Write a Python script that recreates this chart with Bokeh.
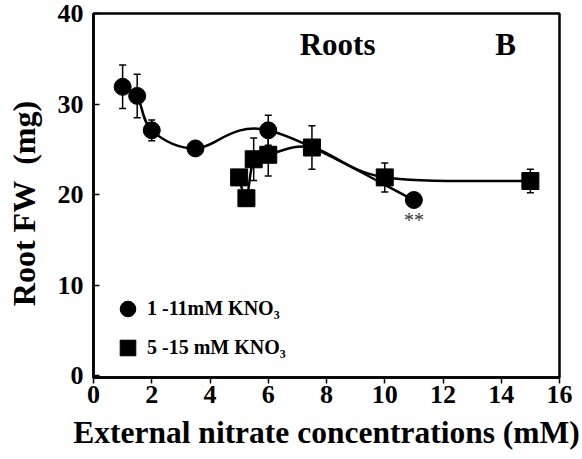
from bokeh.plotting import figure
from bokeh.models import Range1d, FixedTicker, Whisker, TeeHead, ColumnDataSource, Label, Legend, LegendItem
from bokeh.embed import file_html
from bokeh.resources import INLINE

# ---- data ----
circ_x = [1, 1.5, 2, 3.5, 6, 11]
circ_y = [31.9, 30.9, 27.1, 25.1, 27.1, 19.4]
circ_err = [2.4, 2.4, 1.15, 0, 1.65, 0]

sq_x = [5, 5.25, 5.5, 6, 7.5, 10, 15]
sq_y = [21.9, 19.6, 23.9, 24.4, 25.2, 21.9, 21.5]
sq_err = [0, 0, 2.35, 2.35, 2.4, 1.6, 1.3]

x_ticks = [0, 2, 4, 6, 8, 10, 12, 14, 16]
y_ticks = [0, 10, 20, 30, 40]
series_labels = ["1 -11mM KNO\u2083", "5 -15 mM KNO\u2083"]
x_title = "External nitrate concentrations (mM)"
y_title = "Root FW\u00a0 (mg)\u00a0\u00a0"
panel_title = "Roots"
panel_letter = "B"
signif = "**"

FONT = "Liberation Serif"

p = figure(width=582, height=459, output_backend="svg", toolbar_location=None,
           x_range=Range1d(0, 16), y_range=Range1d(-0.2, 40),
           min_border_left=93, min_border_right=23, min_border_top=13, min_border_bottom=82)
p.grid.visible = False
p.outline_line_color = "black"
p.outline_line_width = 2.5
p.background_fill_color = "white"
p.border_fill_color = "white"

for ax in (p.xaxis[0], p.yaxis[0]):
    ax.axis_line_width = 2.5
    ax.major_tick_line_width = 1.5
    ax.minor_tick_line_color = None
    ax.major_label_text_font = FONT
    ax.major_label_text_font_style = "bold"
    ax.major_label_text_font_size = "26px"
    ax.major_label_text_color = "black"
    ax.axis_label_text_font = FONT
    ax.axis_label_text_font_style = "bold"
    ax.axis_label_text_color = "black"

p.xaxis.axis_label_text_font_size = "31.5px"
p.yaxis.axis_label_text_font_size = "32px"
p.xaxis.ticker = FixedTicker(ticks=x_ticks)
p.yaxis.ticker = FixedTicker(ticks=y_ticks)
p.xaxis.major_tick_in = 0
p.xaxis.major_tick_out = 6
p.yaxis.major_tick_in = 6
p.yaxis.major_tick_out = 0
p.xaxis.major_label_standoff = 2
p.yaxis.major_label_standoff = 10
p.xaxis.axis_label = x_title
p.yaxis.axis_label = y_title
p.xaxis.axis_label_standoff = 9
p.yaxis.axis_label_standoff = 13


def smooth(xs, ys):
    pts = list(zip(xs, ys))
    n = len(pts)
    d = dict(x0=[], y0=[], x1=[], y1=[], cx0=[], cy0=[], cx1=[], cy1=[])
    for i in range(n - 1):
        p0 = pts[i - 1] if i > 0 else pts[i]
        p1 = pts[i]
        p2 = pts[i + 1]
        p3 = pts[i + 2] if i + 2 < n else pts[i + 1]
        d["x0"].append(p1[0]); d["y0"].append(p1[1])
        d["x1"].append(p2[0]); d["y1"].append(p2[1])
        d["cx0"].append(p1[0] + (p2[0] - p0[0]) / 6)
        d["cy0"].append(p1[1] + (p2[1] - p0[1]) / 6)
        d["cx1"].append(p2[0] - (p3[0] - p1[0]) / 6)
        d["cy1"].append(p2[1] - (p3[1] - p1[1]) / 6)
    return ColumnDataSource(d)


p.bezier(x0="x0", y0="y0", x1="x1", y1="y1", cx0="cx0", cy0="cy0", cx1="cx1", cy1="cy1",
         source=smooth(circ_x, circ_y), line_color="black", line_width=2.5)
p.bezier(x0="x0", y0="y0", x1="x1", y1="y1", cx0="cx0", cy0="cy0", cx1="cx1", cy1="cy1",
         source=smooth(sq_x, sq_y), line_color="black", line_width=2.5)


def err_source(xs, ys, es):
    xx, lo, hi = [], [], []
    for x, y, e in zip(xs, ys, es):
        if e > 0:
            xx.append(x); lo.append(y - e); hi.append(y + e)
    return ColumnDataSource(dict(x=xx, lower=lo, upper=hi))


for src in (err_source(circ_x, circ_y, circ_err), err_source(sq_x, sq_y, sq_err)):
    w = Whisker(base="x", lower="lower", upper="upper", source=src,
                line_color="black", line_width=1.5,
                upper_head=TeeHead(size=7, line_width=1.5, line_color="black"),
                lower_head=TeeHead(size=7, line_width=1.5, line_color="black"))
    p.add_layout(w)

r_c = p.scatter(circ_x, circ_y, marker="circle", size=17, fill_color="black", line_color="black")
r_s = p.scatter(sq_x, sq_y, marker="square", size=17, fill_color="black", line_color="black")

p.add_layout(Label(x=circ_x[-1], y=circ_y[-1], y_offset=-20, text=signif, text_align="center",
                   text_baseline="middle", text_font=FONT, text_font_size="20px",
                   text_color="#333333"))

p.add_layout(Label(x=8.38, y=36.6, text=panel_title, text_align="center", text_baseline="middle",
                   text_font=FONT, text_font_style="bold", text_font_size="31px",
                   text_color="black"))
p.add_layout(Label(x=14.15, y=36.6, text=panel_letter, text_align="center", text_baseline="middle",
                   text_font=FONT, text_font_style="bold", text_font_size="31px",
                   text_color="black"))

legend = Legend(items=[LegendItem(label=series_labels[0], renderers=[r_c]),
                       LegendItem(label=series_labels[1], renderers=[r_s])],
                location=(15, 10), glyph_width=39, glyph_height=39, spacing=-1,
                label_standoff=0, padding=0, margin=0,
                background_fill_alpha=0, border_line_color=None,
                label_text_font=FONT, label_text_font_style="bold",
                label_text_font_size="20px", label_text_color="black")
p.add_layout(legend)

open("out.html", "w").write(file_html(p, INLINE))
